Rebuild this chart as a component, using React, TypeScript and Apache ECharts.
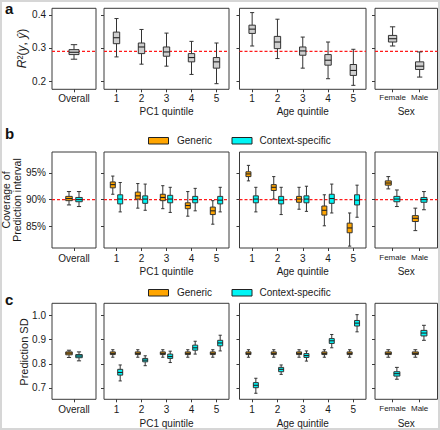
import React, { useEffect, useRef } from "react";
import * as echarts from "echarts";

// ---------- categories / tick labels ----------
const overallLabels = ["Overall"];
const quintileLabels = ["1", "2", "3", "4", "5"];
const sexLabels = ["Female", "Male"];
const r2Ticks = [0.2, 0.3, 0.4];
const coverageTicks = [85, 90, 95];
const sdTicks = [0.7, 0.8, 0.9, 1.0];
const r2Reference = 0.29;
const coverageReference = 90;

// each box: [low whisker, Q1, median, Q3, high whisker]
// ---------- panel a: R2 ----------
const r2Overall = [[0.266, 0.280, 0.287, 0.295, 0.310]];
const r2PC1 = [
  [0.273, 0.313, 0.331, 0.348, 0.389],
  [0.251, 0.283, 0.303, 0.315, 0.356],
  [0.245, 0.275, 0.288, 0.303, 0.345],
  [0.220, 0.258, 0.271, 0.283, 0.320],
  [0.192, 0.239, 0.258, 0.271, 0.315],
];
const r2Age = [
  [0.306, 0.344, 0.357, 0.369, 0.407],
  [0.268, 0.298, 0.318, 0.335, 0.387],
  [0.239, 0.278, 0.291, 0.303, 0.333],
  [0.207, 0.248, 0.263, 0.280, 0.318],
  [0.187, 0.217, 0.232, 0.250, 0.296],
];
const r2Sex = [
  [0.306, 0.318, 0.328, 0.338, 0.364],
  [0.212, 0.235, 0.245, 0.258, 0.288],
];

// ---------- panel b: coverage (%) ----------
const covGenericOverall = [[89.0, 89.8, 90.2, 90.6, 91.5]];
const covContextOverall = [[88.7, 89.6, 90.0, 90.4, 91.5]];
const covGenericPC1 = [
  [91.0, 92.2, 92.8, 93.3, 94.4],
  [88.4, 90.1, 90.7, 91.4, 93.0],
  [88.3, 89.8, 90.4, 91.0, 92.6],
  [86.9, 88.3, 88.9, 89.4, 91.5],
  [85.4, 87.2, 87.9, 88.6, 89.8],
];
const covContextPC1 = [
  [87.7, 89.2, 90.1, 90.9, 93.2],
  [88.0, 89.3, 90.1, 90.7, 92.9],
  [87.6, 89.4, 90.1, 90.8, 92.3],
  [87.9, 89.4, 90.0, 90.6, 92.1],
  [87.7, 89.2, 89.9, 90.6, 92.3],
];
const covGenericAge = [
  [93.5, 94.3, 94.8, 95.2, 96.4],
  [90.1, 91.7, 92.3, 92.8, 94.3],
  [88.2, 89.5, 90.1, 90.6, 92.3],
  [85.1, 87.1, 88.0, 88.8, 90.9],
  [81.3, 83.8, 84.7, 85.6, 87.5],
];
const covContextAge = [
  [87.7, 89.4, 90.1, 90.7, 92.3],
  [87.2, 89.2, 89.9, 90.6, 92.3],
  [87.8, 89.4, 90.1, 90.7, 92.5],
  [87.5, 89.3, 90.2, 91.0, 92.9],
  [86.7, 89.0, 89.9, 90.9, 92.7],
];
const covGenericSex = [
  [92.0, 92.7, 93.1, 93.5, 94.3],
  [84.2, 85.9, 86.5, 87.0, 88.4],
];
const covContextSex = [
  [88.7, 89.6, 90.1, 90.6, 91.8],
  [88.1, 89.5, 90.0, 90.4, 91.5],
];

// ---------- panel c: prediction SD ----------
const sdGenericOverall = [[0.826, 0.837, 0.844, 0.849, 0.856]];
const sdContextOverall = [[0.812, 0.825, 0.832, 0.838, 0.849]];
const sdGenericPC1 = [
  [0.827, 0.838, 0.843, 0.849, 0.858],
  [0.827, 0.838, 0.843, 0.849, 0.858],
  [0.827, 0.838, 0.843, 0.849, 0.858],
  [0.827, 0.838, 0.843, 0.849, 0.858],
  [0.827, 0.838, 0.843, 0.849, 0.858],
];
const sdContextPC1 = [
  [0.729, 0.753, 0.764, 0.777, 0.795],
  [0.792, 0.808, 0.815, 0.822, 0.833],
  [0.805, 0.822, 0.830, 0.840, 0.852],
  [0.840, 0.856, 0.866, 0.877, 0.893],
  [0.853, 0.874, 0.886, 0.897, 0.918],
];
const sdGenericAge = [
  [0.827, 0.838, 0.843, 0.849, 0.858],
  [0.827, 0.838, 0.843, 0.849, 0.858],
  [0.827, 0.838, 0.843, 0.849, 0.858],
  [0.827, 0.838, 0.843, 0.849, 0.858],
  [0.827, 0.838, 0.843, 0.849, 0.858],
];
const sdContextAge = [
  [0.678, 0.701, 0.711, 0.722, 0.740],
  [0.756, 0.767, 0.777, 0.785, 0.795],
  [0.811, 0.826, 0.834, 0.842, 0.853],
  [0.866, 0.884, 0.895, 0.904, 0.921],
  [0.932, 0.956, 0.968, 0.979, 1.003],
];
const sdGenericSex = [
  [0.827, 0.838, 0.843, 0.849, 0.858],
  [0.827, 0.838, 0.843, 0.849, 0.858],
];
const sdContextSex = [
  [0.736, 0.749, 0.759, 0.767, 0.785],
  [0.897, 0.915, 0.927, 0.938, 0.959],
];

// ---------- styling ----------
const FONT = "'Liberation Sans', Arial, Helvetica, sans-serif";
const TEXT = "#1a1a1a";
const FRAME = "#3a3a3a";
const GRAY = "#cfcfcf";
const ORANGE = "#FFA500";
const CYAN = "#00F5F5";
const RED = "#ff1a1a";

type Col = {
  left: number; width: number; min: number; max: number;
  labels: string[]; name: string; labelSize: number;
  singleW: number; pairW: number; pairOff: number;
};
const cols: Col[] = [
  { left: 52, width: 44, min: 0.5, max: 1.5, labels: overallLabels, name: "", labelSize: 10, singleW: 10, pairW: 6.5, pairOff: 5 },
  { left: 104, width: 125, min: 0.5, max: 5.5, labels: quintileLabels, name: "PC1 quintile", labelSize: 10, singleW: 6.4, pairW: 5, pairOff: 3.7 },
  { left: 239.5, width: 126.5, min: 0.5, max: 5.5, labels: quintileLabels, name: "Age quintile", labelSize: 10, singleW: 6.4, pairW: 5, pairOff: 3.7 },
  { left: 375, width: 62.5, min: 0.35, max: 2.66, labels: sexLabels, name: "Sex", labelSize: 8, singleW: 8.3, pairW: 6, pairOff: 4.3 },
];

type Row = {
  top: number; height: number; min: number; max: number; ticks: number[];
  fmt: (v: number) => string; ref: number | null; labelMargin: number; nameGap: number;
  groups: { fill: string; data: number[][][] }[];
};
const rows: Row[] = [
  {
    top: 8.3, height: 81, min: 0.175, max: 0.42, ticks: r2Ticks, fmt: (v) => v.toFixed(1),
    ref: r2Reference, labelMargin: 4, nameGap: 17,
    groups: [{ fill: GRAY, data: [r2Overall, r2PC1, r2Age, r2Sex] }],
  },
  {
    top: 152, height: 96, min: 80.95, max: 98.9, ticks: coverageTicks, fmt: (v) => v + "%",
    ref: coverageReference, labelMargin: 5, nameGap: 18.5,
    groups: [
      { fill: ORANGE, data: [covGenericOverall, covGenericPC1, covGenericAge, covGenericSex] },
      { fill: CYAN, data: [covContextOverall, covContextPC1, covContextAge, covContextSex] },
    ],
  },
  {
    top: 303.3, height: 96, min: 0.653, max: 1.05, ticks: sdTicks, fmt: (v) => v.toFixed(1),
    ref: null, labelMargin: 5.5, nameGap: 19,
    groups: [
      { fill: ORANGE, data: [sdGenericOverall, sdGenericPC1, sdGenericAge, sdGenericSex] },
      { fill: CYAN, data: [sdContextOverall, sdContextPC1, sdContextAge, sdContextSex] },
    ],
  },
];

function makeRenderItem(offset: number, boxW: number, fill: string) {
  return (_params: any, api: any) => {
    const x = api.value(0);
    const lo = api.coord([x, api.value(1)]);
    const q1 = api.coord([x, api.value(2)]);
    const md = api.coord([x, api.value(3)]);
    const q3 = api.coord([x, api.value(4)]);
    const hi = api.coord([x, api.value(5)]);
    const cx = lo[0] + offset;
    const hw = boxW / 2;
    const cw = boxW * 0.32;
    const stroke = "#333333";
    const ls = { stroke, lineWidth: 1, fill: null };
    return {
      type: "group",
      children: [
        { type: "line", shape: { x1: cx, y1: hi[1], x2: cx, y2: q3[1] }, style: ls },
        { type: "line", shape: { x1: cx, y1: q1[1], x2: cx, y2: lo[1] }, style: ls },
        { type: "line", shape: { x1: cx - cw, y1: hi[1], x2: cx + cw, y2: hi[1] }, style: ls },
        { type: "line", shape: { x1: cx - cw, y1: lo[1], x2: cx + cw, y2: lo[1] }, style: ls },
        { type: "rect", shape: { x: cx - hw, y: q3[1], width: boxW, height: q1[1] - q3[1] }, style: { fill, stroke, lineWidth: 1 } },
        { type: "line", shape: { x1: cx - hw, y1: md[1], x2: cx + hw, y2: md[1] }, style: { stroke: "#222", lineWidth: 1.1 } },
      ],
    };
  };
}

function buildOption() {
  const grid: any[] = [];
  const xAxis: any[] = [];
  const yAxis: any[] = [];
  const series: any[] = [];
  rows.forEach((row) => {
    cols.forEach((col, ci) => {
      const idx = grid.length;
      grid.push({
        left: col.left, top: row.top, width: col.width, height: row.height,
        show: true, borderColor: FRAME, borderWidth: 1, backgroundColor: "transparent",
      });
      const xTicks = col.labels.map((_, i) => i + 1);
      xAxis.push({
        type: "value", gridIndex: idx, min: col.min, max: col.max,
        axisLine: { show: false }, splitLine: { show: false },
        axisTick: { show: true, length: 3, customValues: xTicks, lineStyle: { color: FRAME } },
        axisLabel: {
          customValues: xTicks, margin: row.labelMargin, color: TEXT, fontFamily: FONT, fontSize: col.labelSize,
          formatter: (v: number) => col.labels[Math.round(v) - 1] ?? "",
        },
        name: col.name, nameLocation: "middle", nameGap: row.nameGap,
        nameTextStyle: { color: TEXT, fontFamily: FONT, fontSize: 10 },
      });
      yAxis.push({
        type: "value", gridIndex: idx, min: row.min, max: row.max,
        axisLine: { show: false }, splitLine: { show: false },
        axisTick: { show: true, length: 3, customValues: row.ticks, lineStyle: { color: FRAME } },
        axisLabel: {
          show: ci === 0, customValues: row.ticks, margin: 6, color: TEXT, fontFamily: FONT, fontSize: 10,
          formatter: (v: number) => row.fmt(v),
        },
      });
      if (row.ref !== null) {
        // horizontal reference line across the panel, drawn below the boxes
        series.push({
          type: "line", xAxisIndex: idx, yAxisIndex: idx, z: 1, silent: true,
          symbol: "none", showSymbol: false,
          lineStyle: { color: RED, type: [3, 2], width: 1.3 },
          itemStyle: { color: RED },
          data: [[col.min, row.ref], [col.max, row.ref]],
        });
      }
      const n = row.groups.length;
      row.groups.forEach((g, gi) => {
        const arr = g.data[ci];
        const offset = n === 1 ? 0 : (gi === 0 ? -col.pairOff : col.pairOff);
        const w = n === 1 ? col.singleW : col.pairW;
        series.push({
          type: "custom", xAxisIndex: idx, yAxisIndex: idx, z: 3,
          dimensions: ["x", "low", "q1", "median", "q3", "high"],
          encode: { x: 0, y: [1, 2, 3, 4, 5] },
          renderItem: makeRenderItem(offset, w, g.fill),
          data: arr.map((b, i) => [i + 1, ...b]),
          silent: true,
        });
      });
    });
  });

  const lbl = (text: string, x: number, y: number) => ({
    type: "text", x, y,
    style: { text, fontFamily: FONT, fontSize: 15, fontWeight: "bold", fill: "#111", verticalAlign: "middle" },
  });
  const legend = (y: number) => [
    { type: "rect", shape: { x: 148.5, y: y - 3, width: 20, height: 6.5 }, style: { fill: ORANGE, stroke: "#222", lineWidth: 1 } },
    { type: "text", x: 177, y: y, style: { text: "Generic", fontFamily: FONT, fontSize: 10, fill: TEXT, verticalAlign: "middle" } },
    { type: "rect", shape: { x: 232, y: y - 3, width: 20, height: 6.5 }, style: { fill: CYAN, stroke: "#222", lineWidth: 1 } },
    { type: "text", x: 259.5, y: y, style: { text: "Context-specific", fontFamily: FONT, fontSize: 10, fill: TEXT, verticalAlign: "middle" } },
  ];

  const graphic: any[] = [
    { type: "rect", shape: { x: 1, y: 1, width: 438, height: 428 }, style: { fill: "none", stroke: "#d6d6d6", lineWidth: 2 }, z: -1 },
    lbl("a", 5, 8.5),
    lbl("b", 5, 133),
    lbl("c", 5, 299.5),
    ...legend(140.5),
    ...legend(292.5),
    {
      type: "text", x: 22, y: 48.5, rotation: Math.PI / 2,
      style: {
        text: "{i|R}{n|²(}{i|y}{n|, }{i|ŷ}{n|)}",
        align: "center", verticalAlign: "middle",
        rich: {
          i: { fontFamily: FONT, fontSize: 12, fontStyle: "italic", fill: TEXT },
          n: { fontFamily: FONT, fontSize: 12, fill: TEXT },
        },
      },
    },
    {
      type: "text", x: 11.2, y: 200, rotation: Math.PI / 2,
      style: {
        text: "Coverage of\nPrediction interval", align: "center", verticalAlign: "middle",
        fontFamily: FONT, fontSize: 10.5, lineHeight: 11, fill: TEXT,
      },
    },
    {
      type: "text", x: 23.5, y: 352, rotation: Math.PI / 2,
      style: { text: "Prediction SD", align: "center", verticalAlign: "middle", fontFamily: FONT, fontSize: 11, fill: TEXT },
    },
  ];

  return {
    animation: false,
    backgroundColor: "#ffffff",
    textStyle: { fontFamily: FONT },
    grid, xAxis, yAxis, series, graphic,
  };
}

export default function App() {
  const ref = useRef<HTMLDivElement>(null);
  useEffect(() => {
    if (!ref.current) return;
    const chart = echarts.init(ref.current, undefined, { renderer: "svg" });
    chart.setOption(buildOption() as any);
    return () => chart.dispose();
  }, []);
  return (
    <div
      ref={ref}
      style={{ position: "fixed", left: 0, top: 0, width: 440, height: 430, background: "#fff" }}
    />
  );
}
